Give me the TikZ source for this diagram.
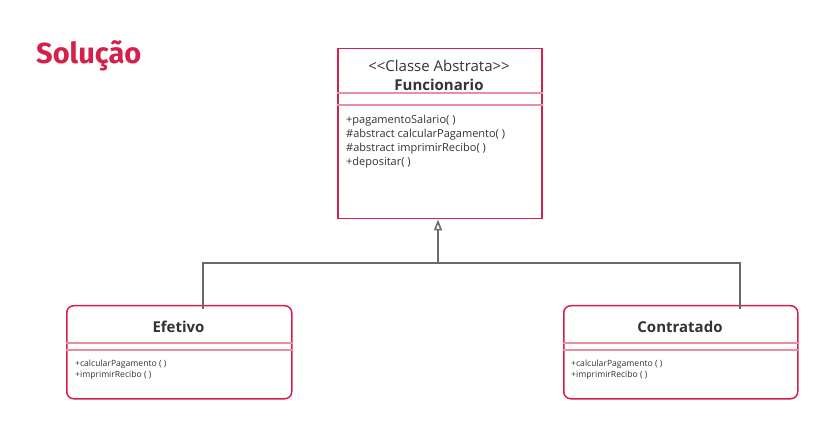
\documentclass[tikz,border=0pt]{standalone}
\usepackage{fontspec}
\setmainfont{Open Sans}
\newfontfamily\titlefont{Fira Sans}
\usetikzlibrary{arrows.meta,calc}
\definecolor{umlred}{HTML}{D6204C}
\definecolor{umlpink}{HTML}{EA8EA5}
\definecolor{conn}{HTML}{6A6A6A}
\definecolor{txt}{HTML}{333333}
\begin{document}
\begin{tikzpicture}[x=1pt,y=-1pt,
  classbox/.style={draw=umlred, line width=1.5pt, fill=white, inner sep=0pt, anchor=north west},
  divider/.style={draw=umlpink, line width=1.1pt},
  stereo/.style={font=\fontsize{15}{17}\selectfont, text=txt, inner sep=0pt},
  cname/.style={font=\fontsize{15}{17}\selectfont\bfseries, text=txt, inner sep=0pt},
  ops/.style={font=\fontsize{11}{14}\selectfont, text=txt, inner sep=0pt, anchor=north west, align=left},
  subops/.style={font=\fontsize{8.6}{10.4}\selectfont, text=txt, inner sep=0pt, anchor=north west, align=left},
  link/.style={draw=conn, line width=1.6pt},
  inherit/.style={link, -{Triangle[open, length=11pt, width=8pt, fill=white]}}]
\useasboundingbox (0,0) rectangle (814,430);
\fill[white] (0,0) rectangle (814,430);

% title
\node[anchor=west, inner sep=0pt, text=umlred, font=\titlefont\fontsize{29}{32}\selectfont\bfseries] (titulo) at (36,56) {Solução};

% abstract class
\node[classbox, minimum width=204pt, minimum height=170pt] (func) at (337,48) {};
\node[stereo] (fstereo) at (439,66) {{<}{<}Classe Abstrata{>}{>}};
\node[cname] (fname) at (439,85) {Funcionario};
\draw[divider] (func.west |- 0,93) -- (func.east |- 0,93);
\draw[divider] (func.west |- 0,105) -- (func.east |- 0,105);
\node[ops] (fops) at (346,114.5) {+pagamentoSalario( )\\\#abstract calcularPagamento( )\\\#abstract imprimirRecibo( )\\+depositar( )};

% Efetivo
\node[classbox, rounded corners=7pt, minimum width=225pt, minimum height=93pt] (efet) at (66,305) {};
\node[cname] (ename) at (178.5,327) {Efetivo};
\draw[divider] (efet.west |- 0,343) -- (efet.east |- 0,343);
\draw[divider] (efet.west |- 0,350) -- (efet.east |- 0,350);
\node[subops] (eops) at (75,360) {+calcularPagamento ( )\\+imprimirRecibo ( )};

% Contratado
\node[classbox, rounded corners=7pt, minimum width=234pt, minimum height=93pt] (contr) at (563,305) {};
\node[cname] (cname) at (680,327) {Contratado};
\draw[divider] (contr.west |- 0,343) -- (contr.east |- 0,343);
\draw[divider] (contr.west |- 0,350) -- (contr.east |- 0,350);
\node[subops] (cops) at (571,360) {+calcularPagamento ( )\\+imprimirRecibo ( )};

% generalization
\coordinate (join) at (438,263);
\coordinate (eTop) at (203,309);
\coordinate (cTop) at (740,309);
\draw[link] (eTop) |- (join) -| (cTop);
\draw[inherit] (join) -- (join |- func.south);
\end{tikzpicture}
\end{document}
